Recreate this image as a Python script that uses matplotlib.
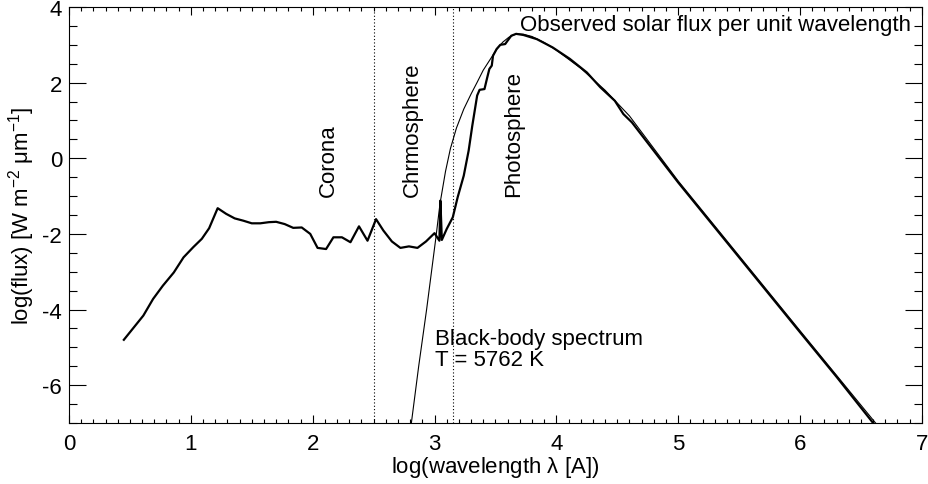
import numpy as np
import matplotlib
matplotlib.use("Agg")
import matplotlib.pyplot as plt
from matplotlib.ticker import MultipleLocator

plt.rcParams['font.family'] = ['Liberation Sans', 'DejaVu Sans']
plt.rcParams['mathtext.fontset'] = 'custom'
plt.rcParams['mathtext.rm'] = 'Liberation Sans'
plt.rcParams['mathtext.it'] = 'Liberation Sans'
plt.rcParams['axes.unicode_minus'] = False

# observed solar flux (log wavelength [A], log flux)
obs_x = [0.45, 0.61, 0.69, 0.77, 0.86, 0.94, 1.02, 1.09, 1.15, 1.22, 1.29, 1.36,
         1.43, 1.50, 1.57, 1.64, 1.70, 1.77, 1.84, 1.91, 1.98, 2.04, 2.11, 2.17,
         2.24, 2.31, 2.38, 2.45, 2.52, 2.58, 2.65, 2.72, 2.79, 2.86, 2.93, 3.00,
         3.04, 3.048, 3.055, 3.06, 3.10, 3.15, 3.19, 3.24, 3.28, 3.31, 3.35, 3.37,
         3.41, 3.43, 3.45, 3.47, 3.48, 3.51, 3.54, 3.58, 3.60, 3.63, 3.67, 3.73,
         3.84, 3.97, 4.11, 4.25, 4.36, 4.48, 4.55, 4.62, 5.0, 5.5, 6.0, 6.3, 6.6]
obs_y = [-4.80, -4.16, -3.72, -3.37, -3.02, -2.62, -2.35, -2.13, -1.85, -1.32, -1.47, -1.59,
         -1.65, -1.72, -1.72, -1.69, -1.68, -1.74, -1.84, -1.83, -2.00, -2.37, -2.40, -2.09,
         -2.09, -2.22, -1.80, -2.18, -1.61, -1.91, -2.20, -2.37, -2.33, -2.37, -2.20, -1.98,
         -2.18, -1.12, -1.70, -2.16, -1.87, -1.56, -1.03, -0.46, 0.20, 0.86, 1.66, 1.81,
         1.83, 2.10, 2.36, 2.45, 2.71, 2.89, 3.00, 3.02, 3.11, 3.24, 3.29, 3.26,
         3.15, 2.93, 2.63, 2.27, 1.88, 1.52, 1.17, 0.95, -0.64, -2.62, -4.60, -5.78, -7.0]

# black-body spectrum T = 5762 K
bb_x = [2.81, 2.87, 2.935, 3.01, 3.045, 3.09, 3.13, 3.18, 3.24, 3.30, 3.35, 3.40,
        3.46, 3.51, 3.56, 3.61, 3.67, 3.73, 3.80, 3.90, 4.00, 4.20, 4.40, 4.60,
        5.0, 5.5, 6.0, 6.3, 6.62]
bb_y = [-7.0, -5.5, -4.0, -2.13, -1.2, -0.35, 0.25, 0.80, 1.30, 1.70, 2.01, 2.33,
        2.63, 2.88, 3.07, 3.20, 3.29, 3.28, 3.22, 3.06, 2.86, 2.38, 1.80, 1.12,
        -0.60, -2.58, -4.56, -5.74, -7.0]

region_edges = [2.5, 3.15]

fs = 16
fig = plt.figure(figsize=(9.29, 4.85), dpi=100)
ax = fig.add_axes([0.0743, 0.1258, 0.918, 0.8577])

ax.plot(bb_x, bb_y, color='black', lw=0.8)
ax.plot(obs_x, obs_y, color='black', lw=1.6)
for xe in region_edges:
    ax.axvline(xe, color='black', lw=0.8, ls=(0, (1, 2)))

ax.set_xlim(0, 7)
ax.set_ylim(-7, 4)
ax.xaxis.set_major_locator(MultipleLocator(1))
ax.xaxis.set_minor_locator(MultipleLocator(0.1))
ax.yaxis.set_major_locator(MultipleLocator(2))
ax.yaxis.set_minor_locator(MultipleLocator(0.5))
ax.tick_params(axis='both', which='both', direction='in', top=True, right=True,
               labelsize=fs, width=0.8, colors='black')
ax.tick_params(axis='x', which='major', length=6, pad=7)
ax.tick_params(axis='x', which='minor', length=3)
ax.tick_params(axis='y', which='major', length=12, pad=5)
ax.tick_params(axis='y', which='minor', length=6)
for s in ax.spines.values():
    s.set_linewidth(0.8)

ax.set_xlabel(r'log(wavelength $\lambda$ [A])', fontsize=fs, labelpad=0)
ax.set_ylabel(r'log(flux) [W m$^{-2}$ $\mu$m$^{-1}$]', fontsize=fs, labelpad=4)

ax.text(2.13, -1.0, 'Corona', rotation=90, ha='center', va='bottom', fontsize=fs)
ax.text(2.82, -1.0, 'Chrmosphere', rotation=90, ha='center', va='bottom', fontsize=fs)
ax.text(3.65, -1.0, 'Photosphere', rotation=90, ha='center', va='bottom', fontsize=fs)
ax.text(3.70, 3.55, 'Observed solar flux per unit wavelength', ha='left', va='center', fontsize=fs)
ax.text(3.0, -4.5, 'Black-body spectrum\nT = 5762 K', ha='left', va='top', fontsize=fs,
        linespacing=1.0)

fig.savefig('out.png', dpi=100)
